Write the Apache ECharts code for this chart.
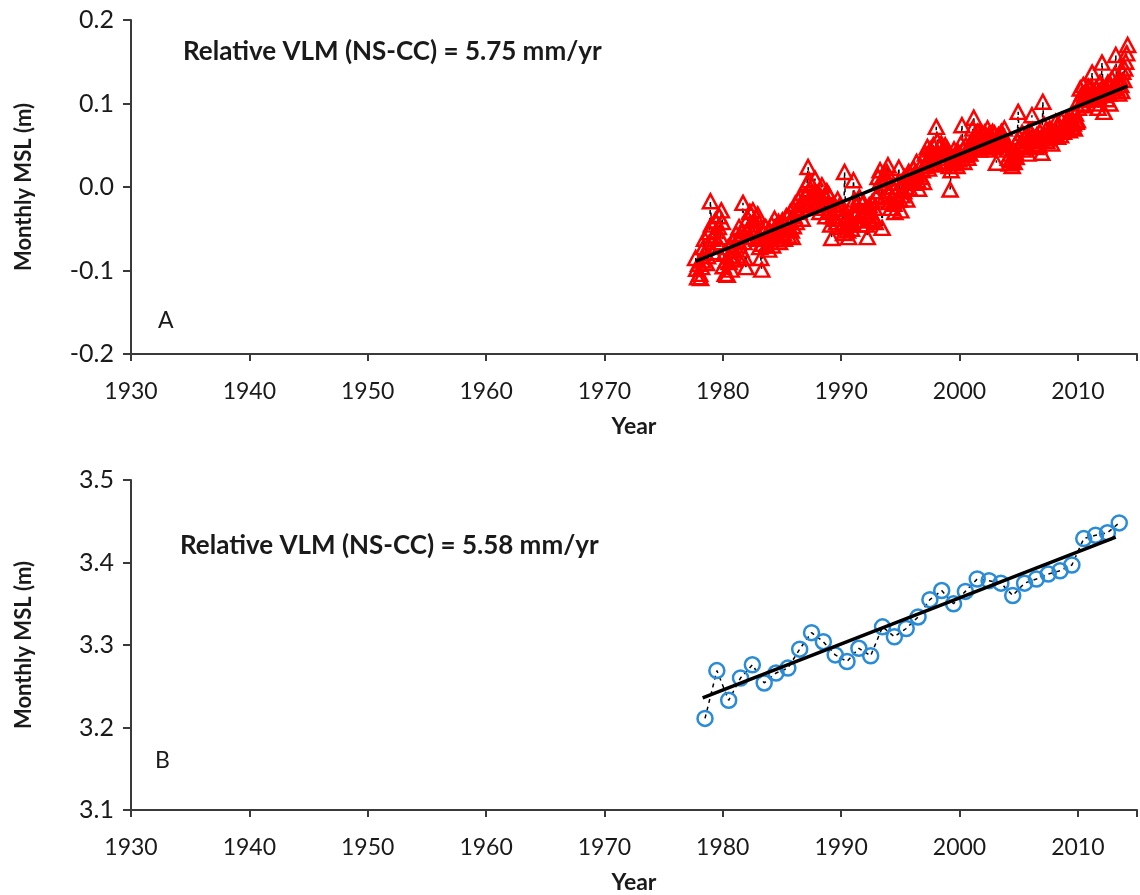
<!DOCTYPE html>
<html>
<head>
<meta charset="utf-8">
<script src="https://cdn.jsdelivr.net/npm/echarts@6/dist/echarts.min.js"></script>
<style>
  html, body { margin: 0; padding: 0; background: #ffffff; }
  #chart { width: 1140px; height: 895px; }
</style>
</head>
<body>
<div id="chart"></div>
<script>
// Panel A: monthly mean sea level (m), first value is September 1977
const monthlyFirstYear = 1977;
const monthlyFirstMonth = 9;
const monthlyMSL = [
  -0.085, -0.098, -0.108, -0.092,
  -0.104, -0.109, -0.096, -0.088, -0.072, -0.062, -0.079, -0.091, -0.083, -0.070, -0.054, -0.017,
  -0.045, -0.062, -0.078, -0.058, -0.040, -0.052, -0.066, -0.048, -0.035, -0.060, -0.028, -0.042,
  -0.095, -0.080, -0.104, -0.088, -0.105, -0.072, -0.090, -0.083, -0.099, -0.076, -0.065, -0.087,
  -0.070, -0.056, -0.082, -0.064, -0.048, -0.058, -0.075, -0.052, -0.019, -0.066, -0.085, -0.096,
  -0.052, -0.038, -0.060, -0.030, -0.045, -0.055, -0.028, -0.041, -0.050, -0.036, -0.062, -0.033,
  -0.058, -0.072, -0.085, -0.099, -0.068, -0.055, -0.062, -0.048, -0.070, -0.059, -0.075, -0.052,
  -0.060, -0.045, -0.070, -0.052, -0.038, -0.063, -0.048, -0.058, -0.042, -0.066, -0.050, -0.055,
  -0.040, -0.055, -0.062, -0.045, -0.035, -0.050, -0.058, -0.042, -0.030, -0.052, -0.060, -0.047,
  -0.035, -0.020, -0.042, -0.028, -0.015, -0.030, -0.012, -0.025, -0.038, -0.018, -0.022, -0.010,
  -0.010,  0.005,  0.024,  0.008, -0.012, -0.020,  0.002, -0.015, -0.008,  0.010, -0.025, -0.018,
  -0.022, -0.008, -0.030, -0.012,  0.002, -0.018, -0.025, -0.010, -0.035, -0.005, -0.020, -0.009,
  -0.028, -0.045, -0.061, -0.035, -0.020, -0.038, -0.025, -0.042, -0.015, -0.030, -0.022, -0.026,
  -0.048, -0.035, -0.055,  0.018, -0.030, -0.045, -0.052, -0.060, -0.042, -0.038, -0.050, -0.044,
   0.008, -0.015, -0.030, -0.022, -0.040, -0.028, -0.012, -0.035, -0.045, -0.020, -0.018, -0.033,
  -0.028, -0.045, -0.060, -0.038, -0.022, -0.030, -0.040, -0.018, -0.035, -0.025, -0.042, -0.012,
  -0.010,  0.012, -0.005,  0.020,  0.008, -0.049, -0.015,  0.005,  0.015,  0.010,  0.018,  0.026,
  -0.005, -0.018, -0.025, -0.012,  0.000, -0.020, -0.030, -0.008, -0.015,  0.005,  0.023, -0.015,
  -0.028, -0.010,  0.005, -0.005,  0.012,  0.000, -0.015,  0.010,  0.018, -0.002,  0.008,  0.006,
   0.010,  0.022,  0.005,  0.018,  0.030,  0.008, -0.002,  0.015,  0.025,  0.012,  0.020,  0.006,
   0.025,  0.040,  0.030,  0.048,  0.022,  0.035,  0.045,  0.028,  0.038,  0.050,  0.032,  0.027,
   0.072,  0.055,  0.040,  0.048,  0.035,  0.052,  0.038,  0.045,  0.030,  0.050,  0.042,  0.046,
   0.040,  0.025, -0.003,  0.020,  0.035,  0.028,  0.045,  0.032,  0.038,  0.025,  0.042,  0.033,
   0.040,  0.052,  0.074,  0.045,  0.030,  0.038,  0.050,  0.042,  0.035,  0.048,  0.040,  0.046,
   0.055,  0.070,  0.083,  0.062,  0.048,  0.058,  0.066,  0.052,  0.045,  0.060,  0.065,  0.056,
   0.050,  0.065,  0.058,  0.045,  0.070,  0.062,  0.052,  0.060,  0.048,  0.066,  0.055,  0.064,
   0.048,  0.029,  0.055,  0.062,  0.050,  0.058,  0.066,  0.060,  0.052,  0.070,  0.056,  0.054,
   0.045,  0.035,  0.028,  0.040,  0.032,  0.025,  0.038,  0.030,  0.042,  0.036,  0.055,  0.090,
   0.060,  0.048,  0.052,  0.065,  0.045,  0.058,  0.050,  0.062,  0.055,  0.040,  0.068,  0.057,
   0.065,  0.086,  0.060,  0.052,  0.058,  0.048,  0.062,  0.055,  0.050,  0.066,  0.058,  0.041,
   0.102,  0.075,  0.060,  0.068,  0.055,  0.062,  0.058,  0.070,  0.064,  0.052,  0.066,  0.060,
   0.065,  0.078,  0.072,  0.060,  0.075,  0.068,  0.062,  0.080,  0.070,  0.066,  0.074,  0.070,
   0.070,  0.082,  0.075,  0.068,  0.085,  0.072,  0.080,  0.076,  0.070,  0.088,  0.078,  0.080,
   0.095,  0.105,  0.118,  0.100,  0.112,  0.122,  0.098,  0.108,  0.115,  0.104,  0.120,  0.110,
   0.110,  0.120,  0.137,  0.105,  0.112,  0.100,  0.118,  0.108,  0.095,  0.115,  0.125,  0.112,
   0.149,  0.120,  0.090,  0.110,  0.118,  0.105,  0.125,  0.112,  0.100,  0.122,  0.130,  0.115,
   0.120,  0.135,  0.158,  0.118,  0.125,  0.112,  0.130,  0.122,  0.115,  0.138,  0.128,  0.142,
   0.150,  0.160,  0.170
];

// Panel B: annual mean sea level (m)
const annualYears = [
  1978, 1979, 1980, 1981, 1982, 1983, 1984, 1985, 1986, 1987, 1988, 1989,
  1990, 1991, 1992, 1993, 1994, 1995, 1996, 1997, 1998, 1999, 2000, 2001,
  2002, 2003, 2004, 2005, 2006, 2007, 2008, 2009, 2010, 2011, 2012, 2013
];
const annualMSL = [
  3.211, 3.269, 3.233, 3.260, 3.276, 3.254, 3.266, 3.272, 3.295, 3.315, 3.304, 3.288,
  3.280, 3.296, 3.287, 3.322, 3.310, 3.320, 3.334, 3.355, 3.366, 3.350, 3.365, 3.380,
  3.378, 3.375, 3.360, 3.375, 3.380, 3.386, 3.390, 3.397, 3.429, 3.433, 3.436, 3.448
];

// Linear trends: start point [year, m], end year, rate in mm/yr
const trendAStart = [1977.7, -0.089];
const trendAEndYear = 2014.2;
const trendARate = 5.75;
const trendBStart = [1978.3, 3.236];
const trendBEndYear = 2013.2;
const trendBRate = 5.58;

// Axis ranges
const yearRange = [1930, 2015];
const yRangeA = [-0.2, 0.2];
const yRangeB = [3.1, 3.5];

const FONT = 'Lato';
const TXT = '#1a1a1a';
const AXIS = '#3a3a3a';

const monthlyPoints = monthlyMSL.map((v, i) => {
  const m = monthlyFirstMonth - 1 + i;
  return [monthlyFirstYear + (m + 0.5) / 12, v];
});
const annualPoints = annualYears.map((y, i) => [y + 0.5, annualMSL[i]]);

function trendLine(start, endYear, rate) {
  return [start, [endYear, start[1] + rate / 1000 * (endYear - start[0])]];
}

const chart = echarts.init(document.getElementById('chart'), null, { renderer: 'canvas' });

function xAxisFor(gridIndex) {
  return {
    gridIndex, type: 'value', min: yearRange[0], max: yearRange[1], interval: 10,
    name: 'Year', nameLocation: 'middle', nameGap: 61,
    nameTextStyle: { fontFamily: FONT, fontWeight: 'bold', fontSize: 23, color: TXT },
    axisLine: { onZero: false, lineStyle: { color: AXIS, width: 2 } },
    axisTick: { length: 7, lineStyle: { color: AXIS, width: 2 } },
    axisLabel: {
      margin: 26, fontFamily: FONT, fontSize: 23, color: TXT,
      formatter: v => (v % 10 === 0 ? String(v) : '')
    },
    splitLine: { show: false }
  };
}
function yAxisFor(gridIndex, range) {
  return {
    gridIndex, type: 'value', min: range[0], max: range[1], interval: 0.1,
    name: 'Monthly MSL (m)', nameLocation: 'middle', nameGap: 96,
    nameTextStyle: { fontFamily: FONT, fontWeight: 'bold', fontSize: 22, color: TXT },
    axisLine: { onZero: false, lineStyle: { color: AXIS, width: 2 } },
    axisTick: { length: 8, lineStyle: { color: AXIS, width: 2 } },
    axisLabel: { margin: 17, fontFamily: FONT, fontSize: 25, color: TXT, formatter: v => v.toFixed(1) },
    splitLine: { show: false }
  };
}

const option = {
  backgroundColor: '#ffffff',
  animation: false,
  grid: [
    { left: 131, top: 20, width: 1014, height: 334 },
    { left: 131, top: 480, width: 1014, height: 334 }
  ],
  xAxis: [xAxisFor(0), xAxisFor(1)],
  yAxis: [yAxisFor(0, yRangeA), yAxisFor(1, yRangeB)],
  graphic: [
    { type: 'text', left: 183, top: 39, style: { text: 'Relative VLM (NS-CC) = ' + trendARate.toFixed(2) + ' mm/yr', font: 'bold 26px ' + FONT, fill: TXT } },
    { type: 'text', left: 180, top: 533, style: { text: 'Relative VLM (NS-CC) = ' + trendBRate.toFixed(2) + ' mm/yr', font: 'bold 26px ' + FONT, fill: TXT } },
    { type: 'text', left: 158, top: 309, style: { text: 'A', font: '23px ' + FONT, fill: TXT } },
    { type: 'text', left: 155, top: 749, style: { text: 'B', font: '23px ' + FONT, fill: TXT } }
  ],
  series: [
    {
      type: 'line', xAxisIndex: 0, yAxisIndex: 0, data: monthlyPoints,
      symbol: 'triangle', symbolSize: [15, 14],
      lineStyle: { color: '#000000', width: 1.5, type: [4, 4] },
      itemStyle: { color: 'rgba(0,0,0,0)', borderColor: '#ff0000', borderWidth: 2.5 },
      z: 2
    },
    {
      type: 'line', xAxisIndex: 0, yAxisIndex: 0, data: trendLine(trendAStart, trendAEndYear, trendARate),
      symbol: 'none', lineStyle: { color: '#000000', width: 3.5 }, z: 3
    },
    {
      type: 'line', xAxisIndex: 1, yAxisIndex: 1, data: annualPoints,
      symbol: 'circle', symbolSize: 15,
      lineStyle: { color: '#000000', width: 1.5, type: [4, 4] },
      itemStyle: { color: 'rgba(0,0,0,0)', borderColor: '#2a8bd6', borderWidth: 2.5 },
      z: 2
    },
    {
      type: 'line', xAxisIndex: 1, yAxisIndex: 1, data: trendLine(trendBStart, trendBEndYear, trendBRate),
      symbol: 'none', lineStyle: { color: '#000000', width: 3.5 }, z: 3
    }
  ]
};
chart.setOption(option);
</script>
</body>
</html>
